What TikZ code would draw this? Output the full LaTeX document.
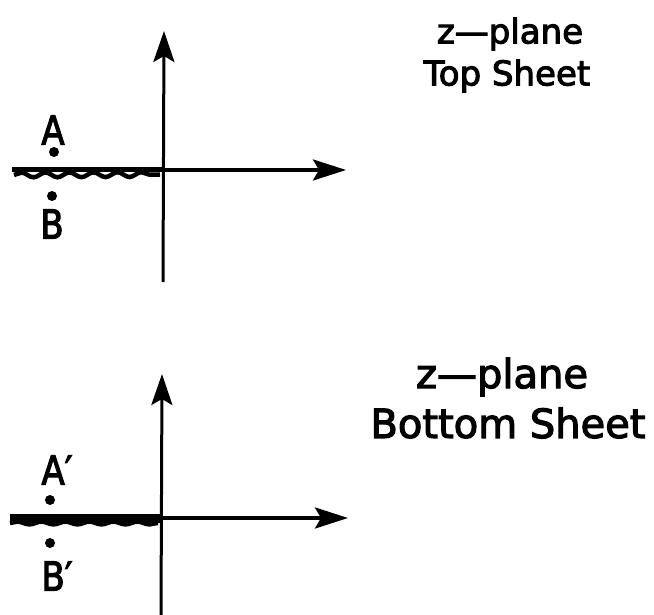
\documentclass[tikz,border=0pt]{standalone}
\usepackage{fontspec}
\setmainfont{DejaVu Sans}[FakeBold=3,AutoFakeBold=3]
\usetikzlibrary{arrows.meta,decorations.pathmorphing}
\tikzset{
  axis/.style={line width=3.4pt,-{Stealth[length=33pt,width=21pt,inset=6pt]}},
  vaxis/.style={line width=3pt,-{Stealth[length=31pt,width=21pt,inset=6pt]}},
  cut/.style={line width=5pt},
  wave/.style={line width=4.5pt,decorate,decoration={snake,amplitude=2.4pt,segment length=24pt}},
  dotpt/.style={circle,fill=black,inner sep=0pt,minimum size=10pt},
  ptlabel/.style={font=\fontsize{40}{40}\selectfont\bfseries,inner sep=0pt,xscale=0.85},
  ttl/.style={font=\fontsize{34}{40}\selectfont\bfseries,inner sep=0pt},
  ttlb/.style={font=\fontsize{40}{46}\selectfont\bfseries,inner sep=0pt}
}
\begin{document}
\begin{tikzpicture}[x=1pt,y=-1pt]
\useasboundingbox (0,0) rectangle (654,615);
% top sheet
\coordinate (t0) at (163,170);
\coordinate (tl) at (12,170);
\coordinate (tr) at (346,170);
\coordinate (tb) at (163,282);
\coordinate (tt) at (164,31);
\coordinate (tw1) at (14,175);
\coordinate (tw2) at (160,174.5);
\draw[vaxis] (tb) -- (tt);
\draw[axis] (tl) -- (tr);
\draw[cut] (tl) -- (t0);
\draw[wave] (tw1) -- (tw2);
\node[dotpt] (a) at (54,152) {};
\node[dotpt] (b) at (52,196) {};
\node[ptlabel] (al) at (53,130) {A};
\node[ptlabel] (bl) at (52,224) {B};
\node[ttl] (t1) at (510,34) {z—plane};
\node[ttl] (t2) at (507,76) {Top Sheet};
% bottom sheet
\coordinate (b0) at (161,518);
\coordinate (bl0) at (10,518);
\coordinate (br) at (348,518);
\coordinate (bb) at (161,615);
\coordinate (bt) at (162,374);
\coordinate (bw1) at (10,523);
\coordinate (bw2) at (158,523);
\draw[vaxis] (bb) -- (bt);
\draw[axis] (bl0) -- (br);
\draw[line width=9pt] (bl0) -- (b0);
\draw[wave,decoration={amplitude=1.4pt}] (bw1) -- (bw2);
\node[dotpt] (ap) at (50,500) {};
\node[dotpt] (bp) at (50,543) {};
\node[ptlabel] (apl) at (57,470) {A′};
\node[ptlabel] (bpl) at (57,576) {B′};
\node[ttlb] (b1) at (502,377) {z—plane};
\node[ttlb] (b2) at (508,423) {Bottom Sheet};
\end{tikzpicture}
\end{document}
